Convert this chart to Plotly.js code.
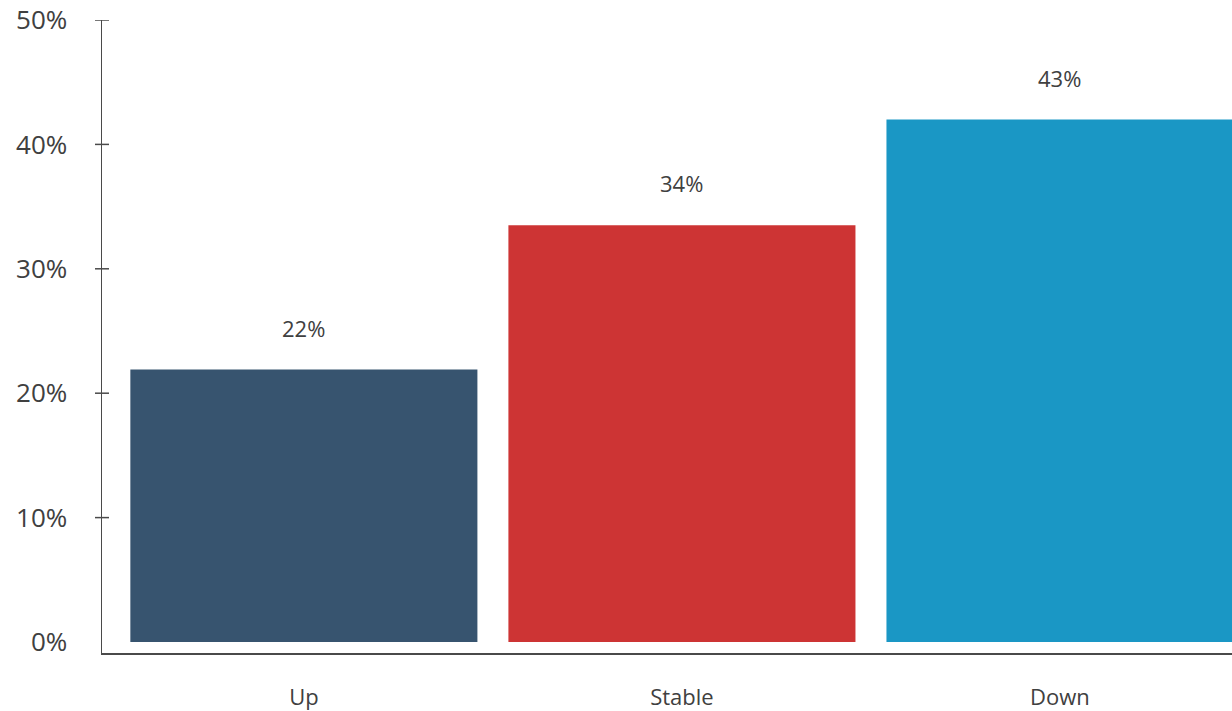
<!DOCTYPE html>
<html>
<head>
<meta charset="utf-8">
<script src="https://cdn.plot.ly/plotly-3.0.1.min.js"></script>
<style>html,body{margin:0;padding:0;background:#fff;}#chart{width:1232px;height:711px;}</style>
</head>
<body>
<div id="chart"></div>
<script>
var categories = ['Up', 'Stable', 'Down'];
var values = [21.9, 33.5, 42.0];
var valueLabels = ['22%', '34%', '43%'];
var barColors = ['#37546F', '#CD3434', '#1A97C5'];
var yTickVals = [0, 10, 20, 30, 40, 50];
var yTickText = ['0%', '10%', '20%', '30%', '40%', '50%'];
var yTickMarkVals = [10, 20, 30, 40, 50];

var textColor = '#404040';
var axisColor = '#4a4a4a';
var fontFamily = '"Open Sans", "Noto Sans", sans-serif';

var trace = {
  type: 'bar',
  x: categories,
  y: values,
  marker: {color: barColors, line: {width: 0}},
  width: 0.918,
  hoverinfo: 'none'
};

var annotations = categories.map(function (c, i) {
  return {
    x: c, y: values[i], xref: 'x', yref: 'y',
    text: valueLabels[i], showarrow: false,
    yanchor: 'middle', yshift: 42,
    font: {family: fontFamily, size: 22, color: textColor}
  };
});

var shapes = yTickMarkVals.map(function (v) {
  return {
    type: 'line', xref: 'paper', yref: 'y',
    xsizemode: 'pixel', xanchor: 0, x0: -7, x1: 7,
    y0: v, y1: v,
    line: {color: axisColor, width: 1.5}
  };
});

var layout = {
  width: 1232, height: 711,
  margin: {l: 102, r: 0, t: 20, b: 58, pad: 0},
  paper_bgcolor: '#ffffff', plot_bgcolor: '#ffffff',
  showlegend: false,
  font: {family: fontFamily, color: textColor},
  xaxis: {
    type: 'category',
    range: [-0.534, 2.455],
    showline: true, linecolor: axisColor, linewidth: 1.5,
    showgrid: false, zeroline: false, ticks: '',
    tickfont: {family: fontFamily, size: 22, color: textColor},
    ticklabelstandoff: 24,
    fixedrange: true
  },
  yaxis: {
    range: [-0.884, 50],
    showline: true, linecolor: axisColor, linewidth: 1.5,
    showgrid: false, zeroline: false, ticks: '',
    tickvals: yTickVals, ticktext: yTickText,
    tickfont: {family: fontFamily, size: 26, color: textColor},
    ticklabelstandoff: 28,
    fixedrange: true
  },
  annotations: annotations,
  shapes: shapes
};

Plotly.newPlot('chart', [trace], layout, {displayModeBar: false, staticPlot: true});
</script>
</body>
</html>
